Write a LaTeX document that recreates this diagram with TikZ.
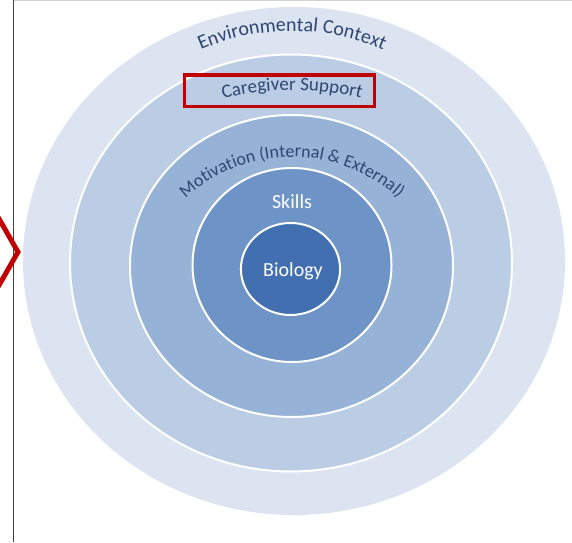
\documentclass[tikz,border=0pt]{standalone}
\usepackage{fontspec}
\setmainfont{Carlito}
\usepackage{tikz}
\usetikzlibrary{decorations.text, positioning}
\definecolor{colorEnv}{RGB}{220,228,242}
\definecolor{colorCare}{RGB}{187,205,229}
\definecolor{colorMotiv}{RGB}{150,179,215}
\definecolor{colorSkill}{RGB}{110,148,199}
\definecolor{colorBio}{RGB}{65,111,176}
\definecolor{colorLabel}{RGB}{45,70,115}
\definecolor{colorMark}{RGB}{192,0,0}
\tikzset{
  ring/.style={draw=white, line width=2pt},
  arcLabel/.style={decorate, decoration={text along path, text align=center, text color=colorLabel}},
  inLabel/.style={text=white, font=\fontsize{20}{24}\selectfont}
}

\begin{document}
\begin{tikzpicture}[x=1pt, y=1pt]
\useasboundingbox (0,0) rectangle (572,542);
\draw[gray!35, line width=1pt] (13,541.5) -- (572,541.5);
\draw[black!75, line width=1pt] (13.3,0) -- (13.3,542);
\draw[colorMark, line width=5pt, line join=miter] (-2,325) -- (18,290) -- (-2,255);
\fill[colorEnv] (294,281) ellipse [x radius=271, y radius=254];
\draw[ring, fill=colorCare] (291,279) ellipse [x radius=221, y radius=208.5];
\draw[ring, fill=colorMotiv] (291.5,276) ellipse [x radius=161.5, y radius=151];
\draw[ring, fill=colorSkill] (292,277) ellipse [x radius=99.5, y radius=97];
\draw[ring, fill=colorBio] (290.5,273) ellipse [x radius=49.6, y radius=46];
\path[arcLabel, decoration={text={|\fontsize{20}{24}\selectfont|Environmental Context}}]
  (292,281) ++(130:230) arc[start angle=130, end angle=50, radius=230];
\path[arcLabel, decoration={text={|\fontsize{19}{23}\selectfont|Caregiver Support}}]
  (292,162) ++(120:290) arc[start angle=120, end angle=60, radius=290];
\path[arcLabel, decoration={text={|\fontsize{18}{22}\selectfont|Motivation (Internal {\&} External)}}]
  (292,227) ++(150:158) arc[start angle=150, end angle=30, radius=158];
\node[inLabel] (skills) at (292,340) {Skills};
\node[inLabel] (bio) at (293,271) {Biology};
\draw[colorMark, line width=3.5pt] (184.5,435.5) rectangle (374.3,467);
\end{tikzpicture}
\end{document}
